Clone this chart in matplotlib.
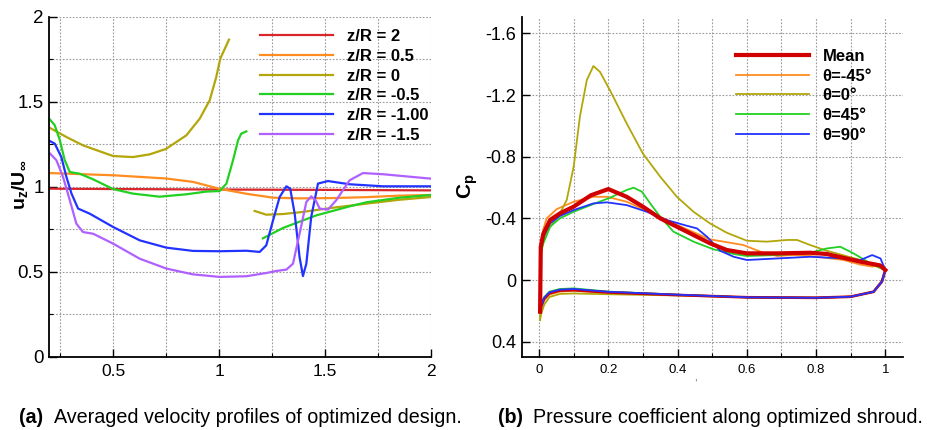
import numpy as np
import matplotlib
matplotlib.use("Agg")
import matplotlib.pyplot as plt
from matplotlib.ticker import MultipleLocator

plt.rcParams['font.family'] = ['Liberation Sans', 'DejaVu Sans']
plt.rcParams['mathtext.fontset'] = 'custom'
plt.rcParams['mathtext.rm'] = 'Liberation Sans'
plt.rcParams['mathtext.bf'] = 'Liberation Sans:bold'
plt.rcParams['mathtext.it'] = 'Liberation Sans:italic'

# ---------------- (a) velocity profiles ----------------
labels_a = ["z/R = 2", "z/R = 0.5", "z/R = 0", "z/R = -0.5", "z/R = -1.00", "z/R = -1.5"]
colors_a = ["#d8262a", "#ff8c1f", "#b3a60a", "#22d022", "#2233ff", "#b060ff"]

x_r2 = [0.2, 0.5, 1.0, 1.5, 2.0]
u_r2 = [0.99, 0.988, 0.985, 0.983, 0.98]

x_r05 = [0.2, 0.5, 0.75, 0.877, 1.0, 1.13, 1.255, 1.38, 1.54, 1.69, 1.85, 2.0]
u_r05 = [1.082, 1.069, 1.05, 1.03, 0.99, 0.96, 0.937, 0.933, 0.935, 0.94, 0.949, 0.953]

x_r0a = [0.2, 0.28, 0.358, 0.5, 0.594, 0.673, 0.75, 0.846, 0.909, 0.956, 0.987, 1.006, 1.047]
u_r0a = [1.349, 1.294, 1.245, 1.182, 1.176, 1.192, 1.224, 1.304, 1.402, 1.51, 1.647, 1.755, 1.867]
x_r0b = [1.168, 1.223, 1.302, 1.38, 1.538, 1.695, 1.852, 2.0]
u_r0b = [0.859, 0.837, 0.841, 0.851, 0.878, 0.902, 0.925, 0.941]

x_rm05a = [0.203, 0.225, 0.249, 0.272, 0.296, 0.343, 0.406, 0.5, 0.594, 0.72, 0.846, 0.94,
           1.003, 1.035, 1.066, 1.09, 1.105, 1.129]
u_rm05a = [1.396, 1.363, 1.275, 1.157, 1.088, 1.078, 1.045, 0.988, 0.961, 0.943, 0.957, 0.973,
           0.976, 1.02, 1.157, 1.275, 1.314, 1.327]
x_rm05b = [1.207, 1.302, 1.459, 1.616, 1.695, 1.852, 2.0]
u_rm05b = [0.698, 0.759, 0.833, 0.886, 0.91, 0.937, 0.953]

x_rm1 = [0.2, 0.225, 0.256, 0.28, 0.304, 0.335, 0.39, 0.5, 0.626, 0.752, 0.877, 1.003, 1.129,
         1.192, 1.223, 1.255, 1.286, 1.318, 1.336, 1.357, 1.38, 1.396, 1.412, 1.435, 1.467,
         1.514, 1.616, 1.774, 2.0]
u_rm1 = [1.271, 1.255, 1.176, 1.059, 0.961, 0.873, 0.843, 0.765, 0.686, 0.643, 0.624, 0.622, 0.625,
         0.618, 0.657, 0.804, 0.941, 1.004, 0.99, 0.843, 0.588, 0.476, 0.549, 0.824, 1.02,
         1.035, 1.016, 1.004, 1.004]

x_rm15 = [0.203, 0.233, 0.264, 0.296, 0.327, 0.358, 0.406, 0.5, 0.626, 0.752, 0.877, 1.003, 1.129,
          1.223, 1.27, 1.318, 1.349, 1.38, 1.412, 1.435, 1.456, 1.475, 1.514, 1.553, 1.616,
          1.679, 1.774, 2.0]
u_rm15 = [1.196, 1.157, 1.059, 0.922, 0.784, 0.735, 0.725, 0.667, 0.578, 0.52, 0.486, 0.471, 0.475,
          0.494, 0.506, 0.514, 0.549, 0.725, 0.912, 0.945, 0.922, 0.873, 0.867, 0.922, 1.039,
          1.082, 1.075, 1.049]

# ---------------- (b) pressure coefficient ----------------
labels_b = ["Mean", "\u03b8=-45\u00b0", "\u03b8=0\u00b0", "\u03b8=45\u00b0", "\u03b8=90\u00b0"]
colors_b = ["#d00000", "#ff8c1f", "#b3a60a", "#22d022", "#2233ff"]

# lower surface, from trailing edge to leading edge
x_low = [1.0, 0.99, 0.966, 0.9, 0.8, 0.6, 0.4, 0.2, 0.1, 0.06, 0.03, 0.015, 0.006, 0.003]
cp_low_mean = [-0.065, 0.01, 0.076, 0.108, 0.115, 0.112, 0.097, 0.08, 0.065, 0.068, 0.085, 0.12, 0.17, 0.205]
cp_low_m45 = [-0.065, 0.01, 0.076, 0.108, 0.115, 0.112, 0.097, 0.082, 0.07, 0.075, 0.095, 0.13, 0.18, 0.21]
cp_low_0 = [-0.065, 0.01, 0.076, 0.108, 0.115, 0.112, 0.1, 0.092, 0.087, 0.09, 0.11, 0.16, 0.22, 0.26]
cp_low_45 = [-0.065, 0.01, 0.076, 0.108, 0.115, 0.112, 0.095, 0.075, 0.054, 0.058, 0.075, 0.11, 0.16, 0.2]
cp_low_90 = [-0.065, 0.01, 0.076, 0.108, 0.115, 0.112, 0.095, 0.076, 0.058, 0.062, 0.08, 0.115, 0.17, 0.21]

# upper surface, from leading edge to trailing edge
x_mean = [0.003, 0.005, 0.0125, 0.032, 0.061, 0.1, 0.15, 0.2, 0.253, 0.3, 0.35, 0.398, 0.446, 0.494,
          0.542, 0.6, 0.687, 0.783, 0.831, 0.928, 0.985, 1.0]
cp_mean = [0.205, -0.216, -0.3, -0.39, -0.433, -0.476, -0.55, -0.59, -0.54, -0.476, -0.4, -0.346,
           -0.292, -0.238, -0.195, -0.173, -0.173, -0.177, -0.169, -0.119, -0.095, -0.065]

x_m45 = [0.003, 0.005, 0.0125, 0.022, 0.051, 0.1, 0.157, 0.196, 0.253, 0.35, 0.398, 0.494, 0.59,
         0.639, 0.687, 0.735, 0.783, 0.88, 0.928, 0.962, 0.985, 1.0]
cp_m45 = [0.21, -0.24, -0.33, -0.4, -0.46, -0.508, -0.54, -0.54, -0.508, -0.41, -0.357, -0.264,
          -0.227, -0.184, -0.156, -0.162, -0.156, -0.13, -0.1, -0.087, -0.097, -0.065]

x_0 = [0.003, 0.005, 0.0125, 0.032, 0.06, 0.08, 0.1, 0.118, 0.138, 0.157, 0.176, 0.205, 0.253,
       0.3, 0.35, 0.398, 0.446, 0.494, 0.542, 0.6, 0.658, 0.716, 0.745, 0.783, 0.831, 0.928, 1.0]
cp_0 = [0.26, -0.17, -0.26, -0.346, -0.43, -0.52, -0.735, -1.06, -1.297, -1.388, -1.35, -1.23,
        -1.016, -0.82, -0.67, -0.54, -0.443, -0.367, -0.307, -0.255, -0.249, -0.26, -0.26, -0.227,
        -0.19, -0.13, -0.065]

x_45 = [0.003, 0.005, 0.0125, 0.032, 0.06, 0.1, 0.157, 0.205, 0.253, 0.273, 0.297, 0.321, 0.35,
        0.388, 0.446, 0.504, 0.562, 0.6, 0.687, 0.783, 0.831, 0.87, 0.908, 0.957, 1.0]
cp_45 = [0.2, -0.17, -0.238, -0.346, -0.4, -0.443, -0.493, -0.534, -0.584, -0.599, -0.573, -0.497,
         -0.41, -0.314, -0.249, -0.199, -0.169, -0.156, -0.162, -0.177, -0.205, -0.216, -0.173,
         -0.108, -0.065]

x_90 = [0.003, 0.005, 0.0125, 0.032, 0.06, 0.1, 0.157, 0.196, 0.253, 0.311, 0.369, 0.427, 0.456,
        0.485, 0.523, 0.562, 0.6, 0.687, 0.783, 0.88, 0.928, 0.962, 0.986, 1.0]
cp_90 = [0.21, -0.2, -0.28, -0.368, -0.415, -0.454, -0.497, -0.504, -0.486, -0.443, -0.389, -0.352,
         -0.335, -0.281, -0.19, -0.151, -0.13, -0.14, -0.151, -0.14, -0.13, -0.162, -0.14, -0.065]

fig = plt.figure(figsize=(9.28, 4.30), dpi=100)
ax1 = fig.add_axes([0.0533, 0.1698, 0.4111, 0.7907])
ax2 = fig.add_axes([0.5622, 0.1705, 0.4105, 0.7907])

grid_kw = dict(color="#9a9a9a", linestyle=(0, (1.5, 1.5)), linewidth=0.8)

# ---- panel (a)
lw = 1.6
ax1.plot(x_r2, u_r2, color=colors_a[0], lw=lw, label=labels_a[0])
ax1.plot(x_r05, u_r05, color=colors_a[1], lw=lw, label=labels_a[1])
ax1.plot(x_r0a, u_r0a, color=colors_a[2], lw=lw, label=labels_a[2])
ax1.plot(x_r0b, u_r0b, color=colors_a[2], lw=lw)
ax1.plot(x_rm05a, u_rm05a, color=colors_a[3], lw=lw, label=labels_a[3])
ax1.plot(x_rm05b, u_rm05b, color=colors_a[3], lw=lw)
ax1.plot(x_rm1, u_rm1, color=colors_a[4], lw=lw, label=labels_a[4])
ax1.plot(x_rm15, u_rm15, color=colors_a[5], lw=lw, label=labels_a[5])

ax1.set_xlim(0.2, 2.0)
ax1.set_ylim(0, 2)
ax1.xaxis.set_major_locator(MultipleLocator(0.5))
ax1.xaxis.set_minor_locator(MultipleLocator(0.25))
ax1.yaxis.set_major_locator(MultipleLocator(0.5))
ax1.yaxis.set_minor_locator(MultipleLocator(0.25))
ax1.grid(True, which="both", **grid_kw)
ax1.tick_params(axis="both", which="major", direction="in", length=6, width=1)
ax1.tick_params(axis="both", which="minor", direction="in", length=3, width=0.8)
ax1.tick_params(axis="x", labelsize=12.5, pad=5)
ax1.tick_params(axis="y", labelsize=13.5, pad=4)
ax1.xaxis.set_major_formatter(plt.FuncFormatter(lambda v, p: "%g" % v))
ax1.yaxis.set_major_formatter(plt.FuncFormatter(lambda v, p: "%g" % v))
for s in ["top", "right"]:
    ax1.spines[s].set_visible(False)
ax1.spines["left"].set_linewidth(1.3)
ax1.spines["bottom"].set_linewidth(1.3)
ax1.set_ylabel(r"$\mathbf{u_z/U_{\infty}}$", fontsize=14)
ax1.yaxis.set_label_coords(-0.05, 0.506)
ax1.legend(loc="upper left", bbox_to_anchor=(0.552, 0.964), frameon=False,
           prop={"weight": "bold", "size": 12}, handlelength=4.4, handletextpad=0.8,
           labelspacing=0.28, borderpad=0, borderaxespad=0)

# ---- panel (b)
ax2.plot(x_low, cp_low_m45, color=colors_b[1], lw=1.3)
ax2.plot(x_low, cp_low_0, color=colors_b[2], lw=1.3)
ax2.plot(x_low, cp_low_45, color=colors_b[3], lw=1.3)
ax2.plot(x_low, cp_low_mean, color=colors_b[0], lw=2.0)
ax2.plot(x_low, cp_low_90, color=colors_b[4], lw=1.3)
ax2.plot(x_mean, cp_mean, color=colors_b[0], lw=3.0, label=labels_b[0], zorder=3)
ax2.plot(x_m45, cp_m45, color=colors_b[1], lw=1.3, label=labels_b[1])
ax2.plot(x_0, cp_0, color=colors_b[2], lw=1.3, label=labels_b[2])
ax2.plot(x_45, cp_45, color=colors_b[3], lw=1.3, label=labels_b[3])
ax2.plot(x_90, cp_90, color=colors_b[4], lw=1.3, label=labels_b[4])

ax2.set_xlim(-0.05, 1.05)
ax2.set_ylim(0.497, -1.708)
ax2.xaxis.set_major_locator(MultipleLocator(0.2))
ax2.xaxis.set_minor_locator(MultipleLocator(0.1))
ax2.yaxis.set_major_locator(MultipleLocator(0.4))
ax2.grid(True, which="major", axis="y", **grid_kw)
ax2.grid(True, which="both", axis="x", **grid_kw)
ax2.tick_params(axis="both", which="major", direction="in", length=6, width=1)
ax2.tick_params(axis="x", which="minor", direction="in", length=3, width=0.8)
ax2.tick_params(axis="x", labelsize=9.5, pad=5)
ax2.tick_params(axis="y", labelsize=13, pad=4)
ax2.xaxis.set_major_formatter(plt.FuncFormatter(lambda v, p: "%g" % round(v, 1)))
ax2.yaxis.set_major_formatter(plt.FuncFormatter(lambda v, p: "%g" % round(v, 1)))
for s in ["top", "right"]:
    ax2.spines[s].set_visible(False)
ax2.spines["left"].set_linewidth(1.3)
ax2.spines["bottom"].set_linewidth(1.3)
ax2.set_ylabel(r"$\mathbf{C_p}$", fontsize=15, labelpad=4)
ax2.legend(loc="upper left", bbox_to_anchor=(0.5625, 0.905), frameon=False,
           prop={"weight": "bold", "size": 12}, handlelength=4.4, handletextpad=0.8,
           labelspacing=0.28, borderpad=0, borderaxespad=0)

fig.text(695 / 928, 1 - 377 / 430, ",", fontsize=7, color="#444444", ha="center", va="center")

# captions
cap_y = 1 - 423 / 430
fig.text(19 / 928, cap_y, "(a)", fontsize=14.2, fontweight="bold", va="baseline")
fig.text(54 / 928, cap_y, "Averaged velocity profiles of optimized design.", fontsize=14.2,
         va="baseline")
fig.text(498 / 928, cap_y, "(b)", fontsize=14.2, fontweight="bold", va="baseline")
fig.text(533 / 928, cap_y, "Pressure coefficient along optimized shroud.", fontsize=14.2,
         va="baseline")

fig.savefig("out.png", dpi=100)
